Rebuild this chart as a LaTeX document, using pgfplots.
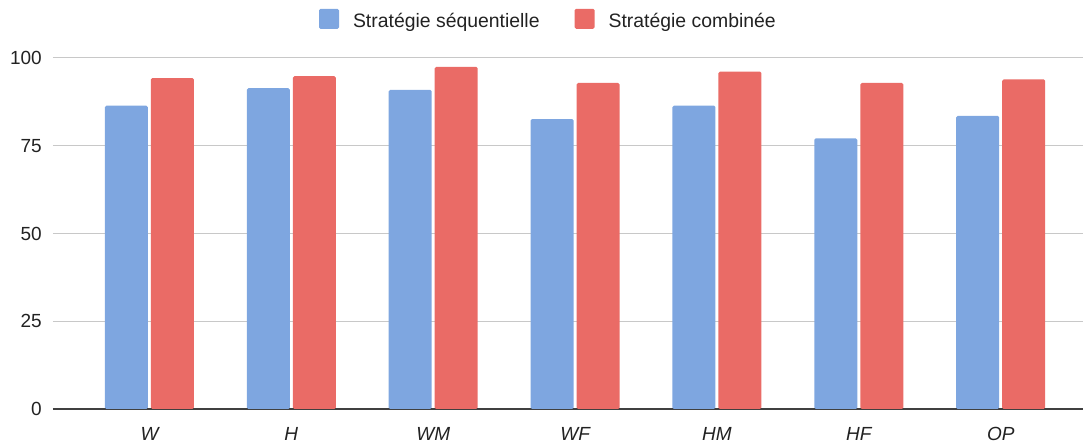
\documentclass[border=0pt]{standalone}
\usepackage{fontspec}
\setmainfont{Liberation Sans}
\usepackage{pgfplots}
\pgfplotsset{compat=1.18}
\definecolor{cblue}{HTML}{7EA6E0}
\definecolor{cred}{HTML}{EA6B66}
\definecolor{ctext}{HTML}{222222}
\definecolor{cgrid}{HTML}{C8C8C8}
\begin{document}
\begin{tikzpicture}
\fontsize{19pt}{23pt}\selectfont
\begin{axis}[
  at={(0pt,0pt)}, anchor=south west,
  scale only axis, width=1030pt, height=351pt,
  xmin=-0.68, xmax=6.58, ymin=0, ymax=100,
  ytick={0,25,50,75,100},
  xtick={0,1,2,3,4,5,6},
  xticklabels={W,H,WM,WF,HM,HF,OP},
  major tick length=0pt,
  axis x line*=bottom, axis y line*=left,
  y axis line style={draw=none},
  x axis line style={draw=black!75, line width=1.2pt},
  ymajorgrids, grid style={cgrid, line width=1pt},
  /pgf/number format/assume math mode=true,
  tick label style={font=\fontsize{19pt}{23pt}\selectfont, text=ctext},
  yticklabel style={anchor=east, inner sep=0pt, xshift=-11pt},
  xticklabel style={anchor=north, inner sep=0pt, yshift=-18pt, font=\fontsize{19pt}{23pt}\selectfont\itshape},
  legend columns=2,
  legend style={at={(0.48,1.11)}, anchor=center, draw=none, fill=none,
    font=\fontsize{19.4pt}{23pt}\selectfont, text=ctext,
    nodes={inner sep=0pt},
    /tikz/every odd column/.append style={column sep=14pt},
    /tikz/every even column/.append style={column sep=35pt},
    inner sep=0pt},
  legend cell align=left,
  legend image code/.code={\fill[#1] (0pt,-7.5pt) rectangle (20pt,12.5pt);},
]
\addplot[ybar, bar width=43pt, bar shift=-23pt, fill=cblue, draw=none, rounded corners=1.5pt]
  coordinates {(0,86.4) (1,91.4) (2,90.9) (3,82.6) (4,86.4) (5,77.1) (6,83.5)};
\addlegendentry{Stratégie séquentielle}
\addplot[ybar, bar width=43pt, bar shift=23pt, fill=cred, draw=none, rounded corners=1.5pt]
  coordinates {(0,94.3) (1,94.8) (2,97.5) (3,92.9) (4,96.1) (5,92.9) (6,93.9)};
\addlegendentry{Stratégie combinée}
\end{axis}
\pgfresetboundingbox
\path[use as bounding box] (-53pt,-35pt) rectangle (1032pt,409pt);
\end{tikzpicture}
\end{document}
